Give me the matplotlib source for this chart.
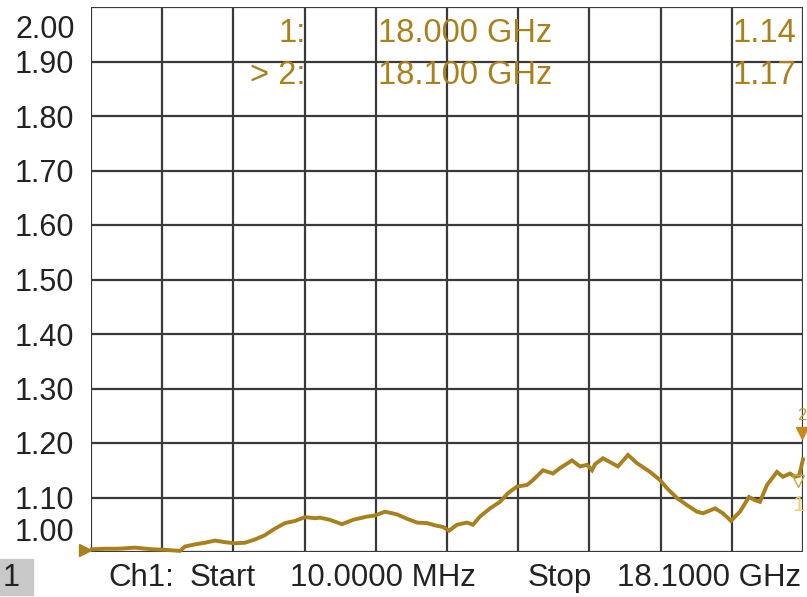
import matplotlib.pyplot as plt
import matplotlib.patches as patches
import numpy as np

# trace (GHz, SWR)
freq_ghz = [0.035, 0.366, 0.696, 1.128, 1.560, 1.890, 2.271, 2.398, 2.652, 2.906,
            3.160, 3.415, 3.669, 3.923, 4.177, 4.431, 4.685, 4.939, 5.193, 5.447,
            5.701, 5.828, 6.082, 6.387, 6.667, 7.022, 7.226, 7.480, 7.785, 8.039,
            8.293, 8.547, 8.801, 8.953, 9.106, 9.309, 9.563, 9.715, 9.893, 10.147,
            10.401, 10.604, 10.833, 11.087, 11.240, 11.494, 11.748, 11.926, 12.231,
            12.434, 12.612, 12.739, 12.815, 13.018, 13.247, 13.399, 13.653, 13.882,
            14.212, 14.466, 14.644, 14.898, 15.152, 15.406, 15.559, 15.864, 16.067,
            16.270, 16.499, 16.728, 16.880, 17.007, 17.185, 17.439, 17.592, 17.770,
            17.897, 18.000, 18.100]
swr = [1.005, 1.006, 1.006, 1.008, 1.005, 1.004, 1.002, 1.010, 1.014, 1.017,
       1.021, 1.018, 1.016, 1.017, 1.023, 1.031, 1.043, 1.053, 1.057, 1.064,
       1.062, 1.063, 1.059, 1.051, 1.059, 1.065, 1.067, 1.074, 1.069, 1.061,
       1.054, 1.053, 1.048, 1.046, 1.039, 1.050, 1.054, 1.050, 1.065, 1.080,
       1.092, 1.108, 1.120, 1.123, 1.132, 1.150, 1.144, 1.154, 1.168,
       1.157, 1.160, 1.150, 1.161, 1.172, 1.163, 1.157, 1.178, 1.163,
       1.147, 1.132, 1.117, 1.099, 1.086, 1.074, 1.071, 1.080, 1.071,
       1.057, 1.074, 1.101, 1.095, 1.092, 1.123, 1.147, 1.138, 1.144,
       1.138, 1.140, 1.170]

y_ticks = [1.0, 1.1, 1.2, 1.3, 1.4, 1.5, 1.6, 1.7, 1.8, 1.9, 2.0]
y_labels = ["1.00", "1.10", "1.20", "1.30", "1.40", "1.50", "1.60", "1.70", "1.80", "1.90", "2.00"]

marker_rows = [("1:", "18.000 GHz", "1.14"), ("> 2:", "18.100 GHz", "1.17")]

f_start, f_stop = 0.01, 18.1
trace_col = "#a8801c"
grid_col = "#3a3a3a"
txt_col = "#222222"

plt.rcParams['font.family'] = ['Liberation Sans', 'DejaVu Sans']
fig = plt.figure(figsize=(8.07, 5.97), dpi=100)
ax = fig.add_axes([91/807, 45/597, 712/807, 545/597])
ax.set_xlim(f_start, f_stop)
ax.set_ylim(1.0, 2.0)

# 10 x 10 graticule
for fx in np.linspace(f_start, f_stop, 11):
    ax.axvline(fx, color=grid_col, lw=1.6, zorder=1)
for yv in y_ticks:
    ax.axhline(yv, color=grid_col, lw=1.6, zorder=1)
for s in ax.spines.values():
    s.set_visible(False)

ax.set_xticks([])
ax.set_yticks(y_ticks[1:-1])
ax.set_yticklabels(y_labels[1:-1], fontsize=22, color=txt_col)
ax.tick_params(axis='y', length=0, pad=12)
# top/bottom labels sit inside the graticule on the instrument
ax.text(-0.023, 2.0 - 23/545, y_labels[-1], transform=ax.get_yaxis_transform(),
        ha='right', va='center', fontsize=22, color=txt_col)
ax.text(-0.023, 1.0 + 19/545, y_labels[0], transform=ax.get_yaxis_transform(),
        ha='right', va='center', fontsize=22, color=txt_col)

ax.plot(freq_ghz, swr, color=trace_col, lw=2.8, zorder=3, clip_on=False,
        solid_joinstyle='miter')

# reference level arrow on the left
ax.plot([-0.009], [1.003], marker='>', ms=9, color=trace_col,
        transform=ax.get_yaxis_transform(), clip_on=False, zorder=4)

# markers
ax.plot([18.08], [1.218], marker='v', ms=9, color="#c88a1a", clip_on=False, zorder=4)
ax.text(18.08, 1.25, "2", fontsize=12, color="#c89a30", ha='center', va='center', clip_on=False)
ax.plot([17.98], [1.13], marker='v', ms=8, mfc='none', mec="#c8a040", clip_on=False, zorder=4)
ax.text(17.98, 1.085, "1", fontsize=16, color="#e8d070", ha='center', va='center', clip_on=False)

# marker readout
mk_col = "#a8801c"
for i, (lab, fr, val) in enumerate(marker_rows):
    yy = 1.0 + (552 - (33 + i * 42)) / 545
    ax.text((306 - 91) / 712, yy, lab, transform=ax.get_yaxis_transform(), ha='right', va='center',
            fontsize=23.5, color=mk_col, zorder=5)
    ax.text((378 - 91) / 712, yy, fr, transform=ax.get_yaxis_transform(), ha='left', va='center',
            fontsize=23.5, color=mk_col, zorder=5)
    ax.text((796 - 91) / 712, yy, val, transform=ax.get_yaxis_transform(), ha='right', va='center',
            fontsize=23.5, color=mk_col, zorder=5)

# status line
fig.patches.append(patches.Rectangle((0, 2/597), 33/807, 36/597, transform=fig.transFigure,
                                     color="#c8c8c8", zorder=0))
fig.text(3/807, 19/597, "1", fontsize=22, color=txt_col, va='center', ha='left')
fig.text(108/807, 19/597, "Ch1:", fontsize=22.5, color=txt_col, va='center', ha='left')
fig.text(190/807, 19/597, "Start", fontsize=22.5, color=txt_col, va='center', ha='left')
fig.text(290/807, 19/597, "10.0000 MHz", fontsize=22.5, color=txt_col, va='center', ha='left')
fig.text(528/807, 19/597, "Stop", fontsize=22.5, color=txt_col, va='center', ha='left')
fig.text(801/807, 19/597, "18.1000 GHz", fontsize=22.5, color=txt_col, va='center', ha='right')

fig.savefig("out.png", dpi=100)
